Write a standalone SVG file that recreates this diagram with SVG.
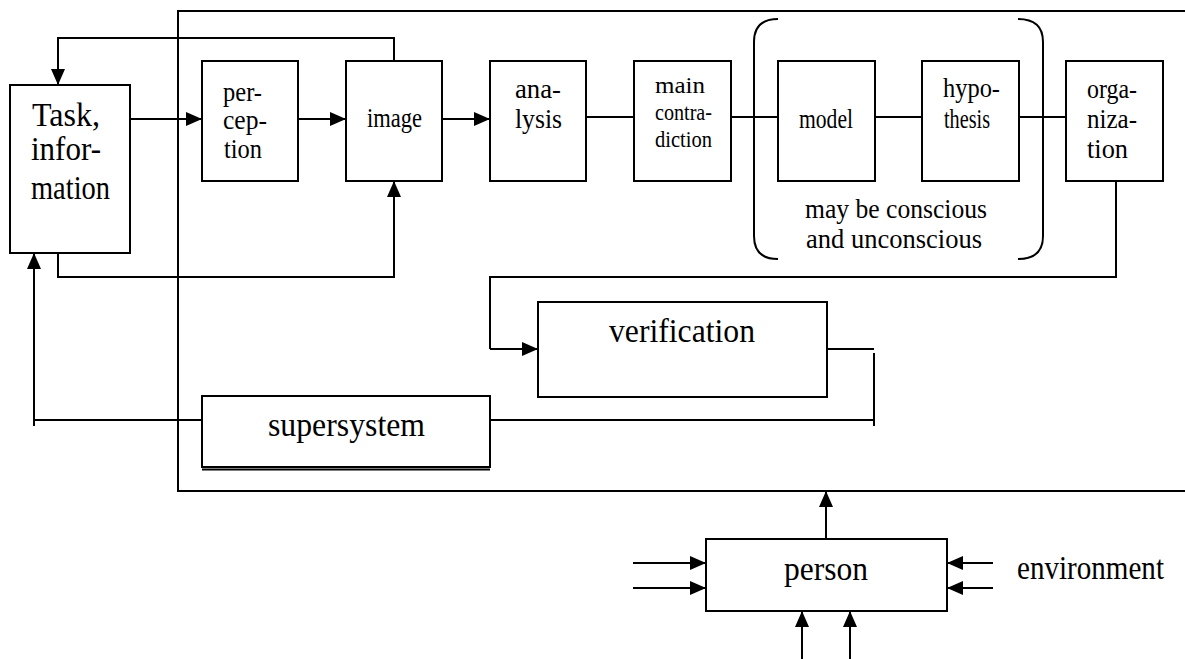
<svg xmlns="http://www.w3.org/2000/svg" width="1185" height="659" viewBox="0 0 1185 659">
<style>
  .box { fill: #fff; stroke: #000; stroke-width: 2; }
  .ln { fill: none; stroke: #000; stroke-width: 2; }
  .t { font-family: "Liberation Serif", "Times New Roman", serif; fill: #000; }
  .s24 { font-size: 24px; }
  .s28 { font-size: 28px; }
  .s27 { font-size: 27px; }
  .s33 { font-size: 33px; }
  .s34 { font-size: 34px; }
  .mid { text-anchor: middle; }
</style>
<defs>
  <marker id="arr" markerUnits="userSpaceOnUse" markerWidth="16" markerHeight="14" refX="16" refY="7" orient="auto">
    <path d="M0,0 L16,7 L0,14 z" fill="#000"/>
  </marker>
</defs>
<rect width="1185" height="659" fill="#fff"/>

<g id="connectors">
  <path class="ln" d="M1185,11 H178 V491 H1185"/>
  <path class="ln" d="M394,61 V38 H58 V85" marker-end="url(#arr)"/>
  <path class="ln" d="M130,119 H202" marker-end="url(#arr)"/>
  <path class="ln" d="M298,119 H346" marker-end="url(#arr)"/>
  <path class="ln" d="M442,119 H490" marker-end="url(#arr)"/>
  <path class="ln" d="M586,117 H634"/>
  <path class="ln" d="M731,117 H778"/>
  <path class="ln" d="M875,117 H922"/>
  <path class="ln" d="M1019,117 H1066"/>
  <path class="ln" d="M58,253 V277 H394 V181" marker-end="url(#arr)"/>
  <path class="ln" d="M34,426 V253" marker-end="url(#arr)"/>
  <path class="ln" d="M34,420 H202"/>
  <path class="ln" d="M1116,181 V277 H490 V349"/>
  <path class="ln" d="M490,349 H538" stroke-width="3" marker-end="url(#arr)"/>
  <path class="ln" d="M827,349 H874"/>
  <path class="ln" d="M874,353 V426"/>
  <path class="ln" d="M490,420 H874"/>
  <path class="ln" d="M826,539 V491" marker-end="url(#arr)"/>
  <path class="ln" d="M633,563 H706" marker-end="url(#arr)"/>
  <path class="ln" d="M633,588 H706" marker-end="url(#arr)"/>
  <path class="ln" d="M993,563 H947" marker-end="url(#arr)"/>
  <path class="ln" d="M993,588 H947" marker-end="url(#arr)"/>
  <path class="ln" d="M802,659 V611" marker-end="url(#arr)"/>
  <path class="ln" d="M850,659 V611" marker-end="url(#arr)"/>
</g>

<g id="bracket">
  <path class="ln" d="M778,19 C762,19 754,26 754,42 V236 C754,252 762,259 778,259"/>
  <path class="ln" d="M1018,19 C1034,19 1043,26 1043,42 V236 C1043,252 1034,259 1018,259"/>
  <text class="t s27" x="805" y="218" textLength="182" lengthAdjust="spacingAndGlyphs">may be conscious</text>
  <text class="t s27" x="806" y="248" textLength="176" lengthAdjust="spacingAndGlyphs">and unconscious</text>
</g>

<g id="task">
  <rect class="box" x="10" y="85" width="120" height="168"/>
  <text class="t s33" x="32" y="126" textLength="68" lengthAdjust="spacingAndGlyphs">Task,</text>
  <text class="t s33" x="31" y="160" textLength="70" lengthAdjust="spacingAndGlyphs">infor-</text>
  <text class="t s33" x="31" y="199" textLength="79" lengthAdjust="spacingAndGlyphs">mation</text>
</g>

<g id="perception">
  <rect class="box" x="202" y="61" width="96" height="120"/>
  <text class="t s28" x="223" y="101" textLength="39" lengthAdjust="spacingAndGlyphs">per-</text>
  <text class="t s28" x="223" y="129" textLength="44" lengthAdjust="spacingAndGlyphs">cep-</text>
  <text class="t s28" x="224" y="158" textLength="38" lengthAdjust="spacingAndGlyphs">tion</text>
</g>

<g id="image">
  <rect class="box" x="346" y="61" width="96" height="120"/>
  <text class="t s28" x="367" y="127" textLength="55" lengthAdjust="spacingAndGlyphs">image</text>
</g>

<g id="analysis">
  <rect class="box" x="490" y="61" width="96" height="120"/>
  <text class="t s28" x="515" y="98" textLength="46" lengthAdjust="spacingAndGlyphs">ana-</text>
  <text class="t s28" x="515" y="128" textLength="47" lengthAdjust="spacingAndGlyphs">lysis</text>
</g>

<g id="main-contradiction">
  <rect class="box" x="634" y="61" width="97" height="120"/>
  <text class="t s24" x="655" y="93" textLength="50" lengthAdjust="spacingAndGlyphs">main</text>
  <text class="t s24" x="655" y="120" textLength="57" lengthAdjust="spacingAndGlyphs">contra-</text>
  <text class="t s24" x="655" y="147" textLength="57" lengthAdjust="spacingAndGlyphs">diction</text>
</g>

<g id="model">
  <rect class="box" x="778" y="61" width="97" height="120"/>
  <text class="t s28" x="799" y="128" textLength="54" lengthAdjust="spacingAndGlyphs">model</text>
</g>

<g id="hypothesis">
  <rect class="box" x="922" y="61" width="97" height="120"/>
  <text class="t s28" x="943" y="97" textLength="57" lengthAdjust="spacingAndGlyphs">hypo-</text>
  <text class="t s28" x="944" y="128" textLength="46" lengthAdjust="spacingAndGlyphs">thesis</text>
</g>

<g id="organization">
  <rect class="box" x="1066" y="61" width="97" height="120"/>
  <text class="t s28" x="1087" y="98" textLength="50" lengthAdjust="spacingAndGlyphs">orga-</text>
  <text class="t s28" x="1087" y="128" textLength="50" lengthAdjust="spacingAndGlyphs">niza-</text>
  <text class="t s28" x="1087" y="158" textLength="41" lengthAdjust="spacingAndGlyphs">tion</text>
</g>

<g id="verification">
  <rect class="box" x="538" y="302" width="289" height="95"/>
  <text class="t s34" x="609" y="342" textLength="146" lengthAdjust="spacingAndGlyphs">verification</text>
</g>

<g id="supersystem">
  <rect class="box" x="202" y="396" width="288" height="71"/>
  <path class="ln" d="M202,469.5 H490"/>
  <text class="t s34" x="268" y="436" textLength="157" lengthAdjust="spacingAndGlyphs">supersystem</text>
</g>

<g id="person">
  <rect class="box" x="706" y="539" width="241" height="72"/>
  <text class="t s34" x="784" y="580" textLength="84" lengthAdjust="spacingAndGlyphs">person</text>
</g>

<g id="environment">
  <text class="t s33" x="1017" y="579" textLength="147" lengthAdjust="spacingAndGlyphs">environment</text>
</g>
</svg>
